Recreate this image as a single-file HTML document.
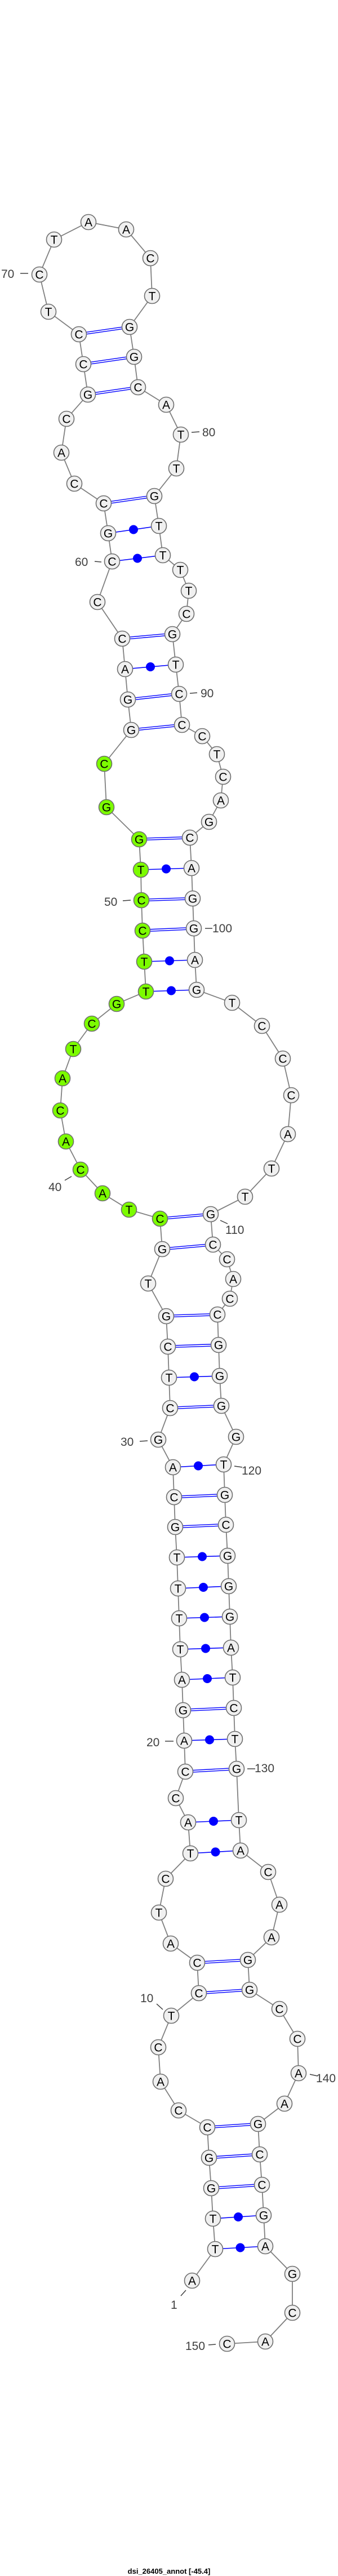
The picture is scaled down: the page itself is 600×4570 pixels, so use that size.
<!DOCTYPE html>
<html><head><meta charset="utf-8">
<style>
html,body{margin:0;padding:0;background:#fff;}
svg{display:block;}
.n{fill:#f0f0f0;stroke:#6e6e6e;stroke-width:1.6;}
.g{fill:#7cfc00;stroke:#6e6e6e;stroke-width:1.6;}
.t{font-family:"Liberation Sans",sans-serif;font-size:21px;fill:#000;text-anchor:middle;}
.l{font-family:"Liberation Sans",sans-serif;font-size:21px;fill:#404040;}
.tk{stroke:#404040;stroke-width:1.5;}
</style></head>
<body>
<svg id="s" width="600" height="4570" viewBox="0 0 600 4570" xmlns="http://www.w3.org/2000/svg">
<g id="pairs"></g>
<g id="bb"></g>
<g id="nodes"></g>
<g>
<line class="tk" x1="36" y1="485" x2="50" y2="485"/><text class="l" x="2" y="493">70</text>
<line class="tk" x1="340" y1="767" x2="354" y2="766"/><text class="l" x="359" y="774">80</text>
<line class="tk" x1="168" y1="996" x2="180" y2="997"/><text class="l" x="133" y="1004">60</text>
<line class="tk" x1="337" y1="1230" x2="350" y2="1229"/><text class="l" x="356" y="1237">90</text>
<line class="tk" x1="218" y1="1598" x2="232" y2="1597"/><text class="l" x="185" y="1607">50</text>
<line class="tk" x1="364" y1="1647" x2="377" y2="1647"/><text class="l" x="377" y="1654">100</text>
<line class="tk" x1="115" y1="2094" x2="127" y2="2087"/><text class="l" x="86" y="2113">40</text>
<line class="tk" x1="391" y1="2165" x2="404" y2="2171"/><text class="l" x="400" y="2189">110</text>
<line class="tk" x1="248" y1="2557" x2="262" y2="2556"/><text class="l" x="214" y="2565">30</text>
<line class="tk" x1="416" y1="2601" x2="430" y2="2603"/><text class="l" x="429" y="2616">120</text>
<line class="tk" x1="293" y1="3089" x2="308" y2="3089"/><text class="l" x="260" y="3098">20</text>
<line class="tk" x1="439" y1="3138" x2="453" y2="3138"/><text class="l" x="452" y="3144">130</text>
<line class="tk" x1="278" y1="3555" x2="289" y2="3565"/><text class="l" x="249" y="3552">10</text>
<line class="tk" x1="550" y1="3680" x2="564" y2="3683"/><text class="l" x="561" y="3694">140</text>
<line class="tk" x1="321" y1="4073" x2="330" y2="4063"/><text class="l" x="303" y="4096">1</text>
<line class="tk" x1="370" y1="4160" x2="383" y2="4159"/><text class="l" x="329" y="4169">150</text>
</g>
<text x="300" y="4566" style="font-family:'Liberation Sans',sans-serif;font-size:13px;font-weight:bold;fill:#000;text-anchor:middle">dsi_26405_annot [-45.4]</text>
</svg>
<script>
var N=[
["A",341,4046],["T",382,3990],["T",378,3936],["G",375,3882],["G",371,3828],["C",368,3774],["C",317,3744],["A",285,3693],["C",281,3632],["T",304,3576],
["C",353,3536],["C",350,3482],["A",303,3448],["T",282,3393],["C",294,3333],["T",338,3288],["A",334,3233],["C",312,3190],["C",329,3143],["A",327,3088],
["G",325,3034],["A",323,2980],["T",320,2926],["T",318,2871],["T",316,2818],["T",314,2763],["G",311,2709],["C",309,2656],["A",307,2603],["G",281,2554],
["C",302,2498],["T",300,2444],["C",298,2389],["G",295,2335],["T",263,2277],["G",288,2216],["C",284,2162],["T",229,2146],["A",182,2117],["C",143,2075],
["A",117,2025],["C",107,1970],["A",111,1913],["T",130,1861],["C",163,1816],["G",207,1781],["T",259,1759],["T",256,1706],["C",253,1651],["C",251,1597],
["T",250,1543],["G",247,1489],["G",189,1432],["C",185,1355],["G",233,1295],["G",227,1241],["A",222,1187],["C",217,1133],["C",173,1068],["C",199,996],
["G",192,946],["C",184,893],["C",132,858],["A",109,803],["C",118,743],["G",156,700],["C",148,646],["C",140,593],["T",86,553],["C",70,487],
["T",96,425],["A",157,394],["A",224,407],["C",267,458],["T",270,525],["G",230,580],["G",238,633],["C",245,687],["A",295,718],["T",321,771],
["T",313,831],["G",274,880],["T",282,933],["T",289,985],["T",320,1011],["T",335,1048],["C",331,1089],["G",306,1125],["T",312,1179],["C",318,1231],
["C",323,1286],["C",359,1306],["T",385,1338],["C",396,1378],["A",392,1420],["G",371,1458],["C",337,1486],["A",340,1540],["G",342,1594],["G",344,1647],
["A",346,1703],["G",349,1756],["T",412,1779],["C",465,1820],["C",502,1878],["C",517,1943],["A",511,2012],["T",482,2073],["T",435,2123],["G",374,2154],
["C",378,2208],["C",403,2234],["A",414,2269],["C",408,2304],["C",386,2332],["G",388,2386],["G",390,2441],["G",393,2494],["G",419,2549],["T",397,2598],
["G",399,2652],["C",401,2705],["G",404,2760],["G",406,2814],["G",408,2868],["A",410,2923],["T",413,2976],["C",415,3030],["T",417,3085],["G",420,3138],
["T",424,3229],["A",427,3283],["C",476,3321],["A",496,3379],["A",482,3437],["G",440,3477],["G",443,3530],["C",496,3564],["C",528,3617],["A",530,3678],
["A",505,3732],["G",458,3768],["C",461,3822],["C",465,3876],["G",468,3930],["A",471,3985],["G",519,4034],["C",519,4103],["A",471,4154],["C",403,4158]];
var P=[[2,146],[3,145],[4,144],[5,143],[6,142],[11,137],[12,136],[16,132],[17,131],[19,130],[20,129],[21,128],[22,127],[23,126],[24,125],[25,124],[26,123],[27,122],[28,121],[29,120],[31,118],[32,117],[33,116],[34,115],[36,111],[37,110],[47,102],[48,101],[49,100],[50,99],[51,98],[52,97],[55,91],[56,90],[57,89],[58,88],[60,84],[61,83],[62,82],[66,78],[67,77],[68,76]];
var ns="http://www.w3.org/2000/svg";
function el(t,a,p){var e=document.createElementNS(ns,t);for(var k in a)e.setAttribute(k,a[k]);p.appendChild(e);return e;}
var bb=document.getElementById("bb"),pr=document.getElementById("pairs"),nd=document.getElementById("nodes");
var pts=N.map(function(n){return n[1]+","+n[2];}).join(" ");
el("polyline",{points:pts,fill:"none",stroke:"#808080","stroke-width":"1.8"},bb);
P.forEach(function(p){
 var a=N[p[0]-1],b=N[p[1]-1];var s=a[0]+b[0];
 if(s=="GC"||s=="CG"){
  var dx=b[1]-a[1],dy=b[2]-a[2],L=Math.sqrt(dx*dx+dy*dy),ox=-dy/L*1.7,oy=dx/L*1.7;
  el("line",{x1:a[1]+ox,y1:a[2]+oy,x2:b[1]+ox,y2:b[2]+oy,stroke:"#0000ff","stroke-width":"1.4"},pr);
  el("line",{x1:a[1]-ox,y1:a[2]-oy,x2:b[1]-ox,y2:b[2]-oy,stroke:"#0000ff","stroke-width":"1.4"},pr);
 } else {
  el("line",{x1:a[1],y1:a[2],x2:b[1],y2:b[2],stroke:"#0000ff","stroke-width":"1.6"},pr);
  el("circle",{cx:(a[1]+b[1])/2,cy:(a[2]+b[2])/2,r:"8",fill:"#0000ff"},pr);
 }
});
N.forEach(function(n,i){
 var idx=i+1;var green=idx>=37&&idx<=54;
 el("circle",{cx:n[1],cy:n[2],r:"13.5","class":green?"g":"n"},nd);
 var t=el("text",{x:n[1],y:n[2]+7.5,"class":"t"},nd);t.textContent=n[0];
});
</script>
</body></html>
